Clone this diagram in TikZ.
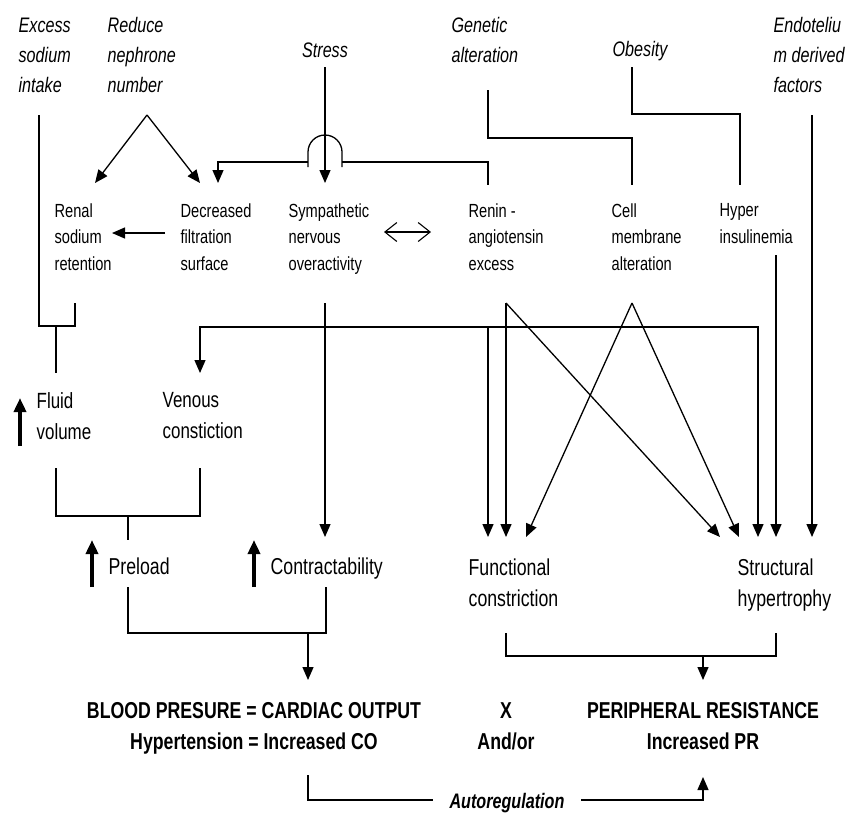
\documentclass[tikz,border=0pt]{standalone}
\usepackage{fontspec}
\setmainfont{Liberation Sans}[FakeStretch=0.77]
\usetikzlibrary{arrows.meta}
\begin{document}
\begin{tikzpicture}[x=1pt,y=-1pt,line width=1.3pt,
  toplab/.style={font=\fontsize{21}{30}\selectfont\itshape,align=left,anchor=north west,inner sep=0pt},
  toplabc/.style={font=\fontsize{21}{30}\selectfont\itshape,align=center,anchor=north,inner sep=0pt},
  midlab/.style={font=\fontsize{19}{26.5}\selectfont,align=left,anchor=north west,inner sep=0pt},
  biglab/.style={font=\fontsize{22}{31}\selectfont,align=left,anchor=north west,inner sep=0pt},
  lrglab/.style={font=\fontsize{23}{31}\selectfont,align=left,anchor=north west,inner sep=0pt},
  botlab/.style={font=\fontsize{23}{31}\selectfont\bfseries,align=center,anchor=north,inner sep=0pt},
  arr/.style={-{Triangle[length=13pt,width=11pt]}},
  bigup/.style={line width=3.6pt,-{Triangle[length=14pt,width=12pt]}},
  dbl/.style={line width=1.1pt,{Straight Barb[length=12pt,width=19pt]}-{Straight Barb[length=12pt,width=19pt]}}]
\useasboundingbox (0,0) rectangle (848,812);
\fill[white] (0,0) rectangle (848,812);

% top causes
\node[toplab] (excess) at (18,17) {Excess\\sodium\\intake};
\node[toplab] (reduce) at (107,17) {Reduce\\nephrone\\number};
\node[toplabc] (stress) at (325,42) {Stress};
\node[toplab] (genetic) at (451,17) {Genetic\\alteration};
\node[toplab] (obesity) at (612,41) {Obesity};
\node[toplab] (endo) at (773,17) {Endoteliu\\m derived\\factors};

% second level
\node[midlab] (renal) at (54,203) {Renal\\sodium\\retention};
\node[midlab] (decr) at (180,203) {Decreased\\filtration\\surface};
\node[midlab] (symp) at (288,203) {Sympathetic\\nervous\\overactivity};
\node[midlab] (renin) at (468,203) {Renin -\\angiotensin\\excess};
\node[midlab] (cell) at (611,203) {Cell\\membrane\\alteration};
\node[midlab] (hyper) at (719,203) {Hyper\\insulinemia};

% middle
\node[biglab] (fluid) at (36,392) {Fluid\\volume};
\node[biglab] (venous) at (162,392) {Venous\\constiction};
\node[lrglab] (preload) at (108,557) {Preload};
\node[lrglab] (contr) at (270,557) {Contractability};
\node[lrglab] (func) at (468,558) {Functional\\constriction};
\node[lrglab] (struct) at (737,558) {Structural\\hypertrophy};

% bottom
\node[botlab] (bp) at (254,702) {BLOOD PRESURE = CARDIAC OUTPUT\\Hypertension = Increased CO};
\node[botlab] (xx) at (506,702) {X\\And/or};
\node[botlab] (pr) at (703,702) {PERIPHERAL RESISTANCE\\Increased PR};
\node[font=\fontsize{21}{26}\selectfont\bfseries\itshape,anchor=base,inner ysep=0pt,inner xsep=16pt] (auto) at (507,808) {Autoregulation};

% coordinates
\coordinate (ex1) at (39,115);
\coordinate (ex2) at (39,326);
\coordinate (rn1) at (75,303);
\coordinate (rn2) at (75,326);
\coordinate (fv0) at (56,326);
\coordinate (fv1) at (56,373);
\coordinate (apex) at (147,115);
\coordinate (renT) at (95,183);
\coordinate (decT) at (200,183);
\coordinate (st1) at (325,67);
\coordinate (st2) at (325,183);
\coordinate (h1) at (308,162);
\coordinate (h0) at (218,162);
\coordinate (h0b) at (218,183);
\coordinate (hl) at (308,167);
\coordinate (hr) at (342,167);
\coordinate (h2) at (342,162);
\coordinate (h3) at (488,162);
\coordinate (h4) at (488,185);
\coordinate (dr1) at (165,233);
\coordinate (dr2) at (112,233);
\coordinate (da1) at (384,232);
\coordinate (da2) at (431,232);
\coordinate (g1) at (488,90);
\coordinate (g2) at (488,138);
\coordinate (g3) at (632,138);
\coordinate (g4) at (632,185);
\coordinate (o1) at (632,67);
\coordinate (o2) at (632,114);
\coordinate (o3) at (740,114);
\coordinate (o4) at (740,185);
\coordinate (e1) at (812,115);
\coordinate (e2) at (812,537);
\coordinate (hy1) at (776,255);
\coordinate (hy2) at (776,537);
\coordinate (sy1) at (325,303);
\coordinate (sy2) at (325,537);
\coordinate (sj) at (325,327);
\coordinate (vl) at (200,327);
\coordinate (vt) at (200,373);
\coordinate (rr) at (758,327);
\coordinate (rt) at (758,537);
\coordinate (fj) at (488,327);
\coordinate (ft) at (488,537);
\coordinate (re1) at (506,303);
\coordinate (re2) at (506,537);
\coordinate (re3) at (720,537);
\coordinate (ce1) at (632,303);
\coordinate (ce2) at (526,537);
\coordinate (ce3) at (739,537);
\coordinate (fa1) at (20,446);
\coordinate (fa2) at (20,398);
\coordinate (b1a) at (56,468);
\coordinate (b1b) at (56,516);
\coordinate (b1c) at (200,516);
\coordinate (b1d) at (200,468);
\coordinate (b1m) at (128,516);
\coordinate (b1e) at (128,540);
\coordinate (pa1) at (92,587);
\coordinate (pa2) at (92,540);
\coordinate (ca1) at (254,587);
\coordinate (ca2) at (254,540);
\coordinate (b2a) at (128,587);
\coordinate (b2b) at (128,633);
\coordinate (b2c) at (326,633);
\coordinate (b2d) at (326,587);
\coordinate (b2m) at (308,633);
\coordinate (b2e) at (308,680);
\coordinate (b3a) at (506,633);
\coordinate (b3b) at (506,656);
\coordinate (b3c) at (776,656);
\coordinate (b3d) at (776,633);
\coordinate (b3m) at (703,656);
\coordinate (b3e) at (703,680);
\coordinate (au1) at (308,775);
\coordinate (au2) at (308,800);
\coordinate (au3) at (703,800);
\coordinate (au4) at (703,777);

% connectors
\draw (ex1) -- (ex2) -- (rn2) -- (rn1);
\draw (fv0) -- (fv1);
\draw[arr] (apex) -- (renT);
\draw[arr] (apex) -- (decT);
\draw[arr] (st1) -- (st2);
\draw[arr] (h1) -- (h0) -- (h0b);
\draw (hl) -- (308,152) arc[start angle=180,end angle=0,radius=17pt] -- (hr);
\draw (h2) -- (h3) -- (h4);
\draw[arr] (dr1) -- (dr2);
\draw[dbl] (da1) -- (da2);
\draw (g1) -- (g2) -- (g3) -- (g4);
\draw (o1) -- (o2) -- (o3) -- (o4);
\draw[arr] (e1) -- (e2);
\draw[arr] (hy1) -- (hy2);
\draw[arr] (sy1) -- (sy2);
\draw[arr] (sj) -- (vl) -- (vt);
\draw[arr] (sj) -- (rr) -- (rt);
\draw[arr] (fj) -- (ft);
\draw[arr] (re1) -- (re2);
\draw[arr] (re1) -- (re3);
\draw[arr] (ce1) -- (ce2);
\draw[arr] (ce1) -- (ce3);
\draw[bigup] (fa1) -- (fa2);
\draw (b1a) -- (b1b) -- (b1c) -- (b1d);
\draw (b1m) -- (b1e);
\draw[bigup] (pa1) -- (pa2);
\draw[bigup] (ca1) -- (ca2);
\draw (b2a) -- (b2b) -- (b2c) -- (b2d);
\draw[arr] (b2m) -- (b2e);
\draw (b3a) -- (b3b) -- (b3c) -- (b3d);
\draw[arr] (b3m) -- (b3e);
\draw (au1) -- (au2) -- (auto.west |- au2);
\draw[arr] (auto.east |- au3) -- (au3) -- (au4);
\end{tikzpicture}
\end{document}
